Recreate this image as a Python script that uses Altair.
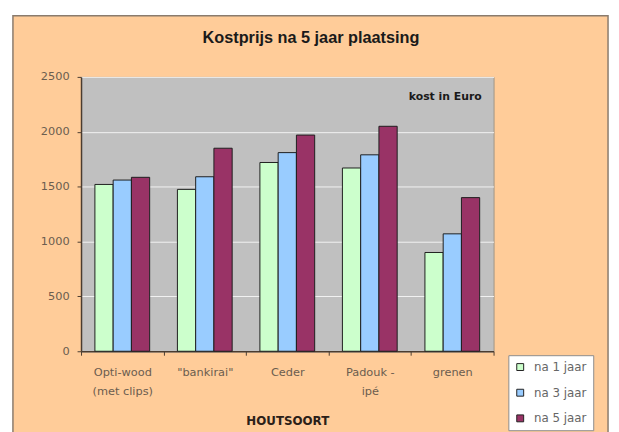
import altair as alt
import pandas as pd

title_text = ["Kostprijs na 5 jaar plaatsing"]
categories = ["Opti-wood|(met clips)", "\"bankirai\"", "Ceder", "Padouk -|ipé", "grenen"]
series = ["na 1 jaar", "na 3 jaar", "na 5 jaar"]
na_1_jaar = [1520, 1475, 1720, 1670, 900]
na_3_jaar = [1560, 1590, 1810, 1790, 1070]
na_5_jaar = [1585, 1850, 1970, 2050, 1400]
y_ticks = [0, 500, 1000, 1500, 2000, 2500]
colors = ["#CCFFCC", "#99CCFF", "#993366"]

rows = []
for i, c in enumerate(categories):
    for s, vals in zip(series, [na_1_jaar, na_3_jaar, na_5_jaar]):
        rows.append({"soort": c, "serie": s, "kost": vals[i]})
df = pd.DataFrame(rows)

deco = pd.DataFrame({"k": [0]})

white_edge = alt.Chart(deco).mark_rect(filled=False, stroke="white", strokeWidth=10).encode(
    x=alt.value(-74), x2=alt.value(539), y=alt.value(-67), y2=alt.value(430)
)
frame = alt.Chart(deco).mark_rect(filled=False, stroke="#8a7b6d", strokeWidth=1.5).encode(
    x=alt.value(-69), x2=alt.value(534), y=alt.value(-62), y2=alt.value(430)
)

bars = alt.Chart(df).mark_bar(stroke="#1e1e1e", strokeWidth=1).encode(
    x=alt.X(
        "soort:N",
        sort=categories,
        scale=alt.Scale(paddingInner=0, paddingOuter=0),
        axis=alt.Axis(
            title="HOUTSOORT",
            labelExpr="split(datum.label, '|')",
            labelAngle=0,
            tickBand="extent",
            tickSize=4,
            labelPadding=12,
            labelLineHeight=19,
            titleY=70,
            titleBaseline="middle",
        ),
    ),
    xOffset=alt.XOffset("serie:N", sort=series, scale=alt.Scale(paddingInner=0, paddingOuter=0.76)),
    y=alt.Y(
        "kost:Q",
        scale=alt.Scale(domain=[0, 2500]),
        axis=alt.Axis(values=y_ticks, format="d", title=None, grid=True, tickSize=4, labelPadding=8),
    ),
    color=alt.Color(
        "serie:N",
        sort=series,
        scale=alt.Scale(domain=series, range=colors),
        legend=alt.Legend(
            title=None,
            orient="none",
            legendX=433,
            legendY=282,
            fillColor="white",
            strokeColor="#8c8c8c",
            padding=6,
            symbolType="square",
            symbolSize=49,
            symbolStrokeColor="#222222",
            symbolStrokeWidth=1,
            symbolOpacity=1,
            labelFont="DejaVu Sans",
            labelFontSize=12,
            labelColor="#666666",
            labelOffset=8,
            rowPadding=14,
        ),
    ),
)

kost = alt.Chart(pd.DataFrame({"t": ["kost in Euro"]})).mark_text(
    align="right", baseline="middle", font="DejaVu Sans", fontWeight="bold", fontSize=11, color="#1a1a1a"
).encode(text="t:N", x=alt.value(406), y=alt.value(20))

title = alt.Chart(pd.DataFrame({"t": title_text})).mark_text(
    align="center", baseline="middle", font="Liberation Sans", fontWeight="bold", fontSize=16.5, color="#1a1a1a"
).encode(text="t:N", x=alt.value(233), y=alt.value(-39))

chart = alt.layer(white_edge, frame, bars, kost, title).properties(
    width=418,
    height=278,
    padding={"left": 74, "top": 67, "right": 119, "bottom": 79},
    autosize=alt.AutoSizeParams(type="none"),
).configure(background="#FFCC99").configure_view(
    fill="#C0C0C0", stroke="#a09484", strokeWidth=1
).configure_axis(
    domainColor="#4a3c30",
    domainWidth=1.5,
    tickColor="#4a3c30",
    gridColor="#f2f2f2",
    gridWidth=1,
    labelFont="DejaVu Sans",
    labelFontSize=11.5,
    labelColor="#6b5d4f",
    titleFont="DejaVu Sans",
    titleFontSize=12,
    titleFontWeight="bold",
    titleColor="#2b2018",
)

chart.save("out.html", embed_options={"renderer": "svg", "actions": False})
